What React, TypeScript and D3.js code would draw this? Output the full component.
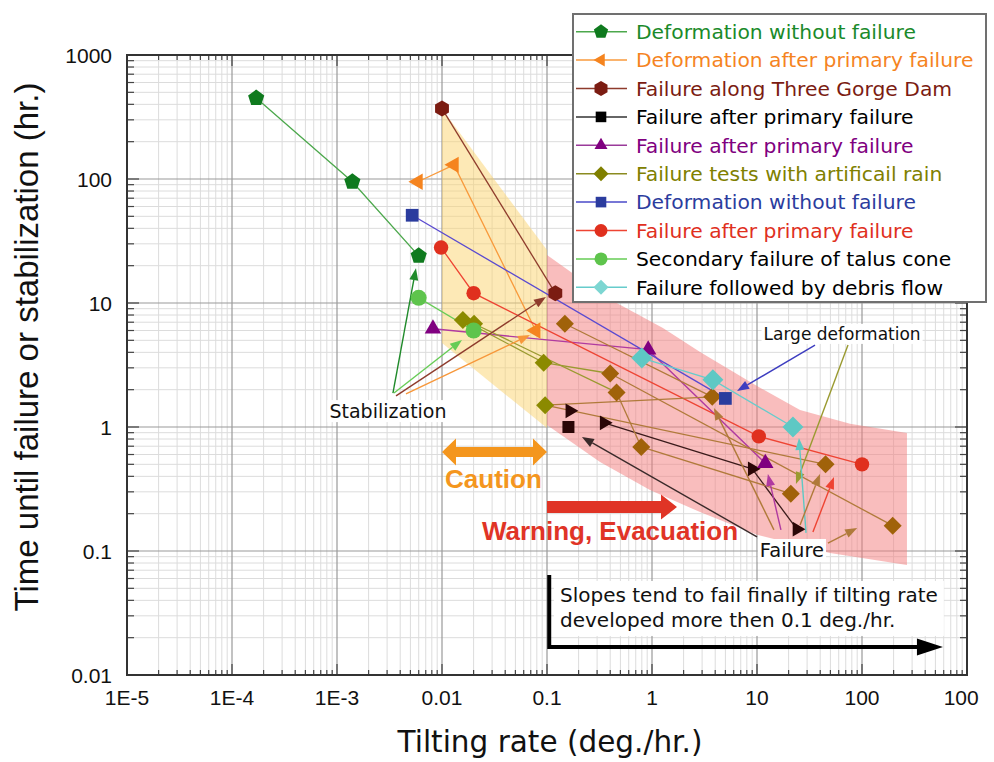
import React, { useRef, useEffect } from "react";
import * as d3 from "d3";

// axis ticks
const xTickValues = [1e-5, 1e-4, 1e-3, 0.01, 0.1, 1, 10, 100, 1000];
const xTickLabels = ["1E-5", "1E-4", "1E-3", "0.01", "0.1", "1", "10", "100", "1000"];
const yTickValues = [0.01, 0.1, 1, 10, 100, 1000];
const yTickLabels = ["0.01", "0.1", "1", "10", "100", "1000"];

// series values: [tilting rate (deg./hr.), time (hr.)]
const deformationNoFailureGreen = [[1.7e-4, 450], [1.4e-3, 95], [6.0e-3, 24]];
const deformationAfterPrimary = [[0.0059, 95], [0.013, 130], [0.078, 6.0]];
const threeGorgeDam = [[0.01, 370], [0.12, 12]];
const failureAfterPrimarySquare = [[0.16, 1.0]];
const failureAfterPrimaryTri = [[0.165, 1.35], [0.35, 1.08], [9.0, 0.46], [24, 0.15]];
const failureAfterPrimaryTriLinks = [[1, 2], [2, 3]];
const failureAfterPrimaryPurple = [[0.0082, 6.2], [0.92, 4.2], [12, 0.51]];
const rainTestsOlive = [[0.0158, 7.3], [0.0202, 6.8], [0.093, 3.3], [0.096, 1.5]];
const rainTestsBrown = [[0.148, 6.8], [0.4, 2.7], [0.46, 1.9], [0.79, 0.69], [3.75, 1.75], [45, 0.5], [21, 0.29], [196, 0.16]];
const rainTestLinks = [[0, 2], [1, 6], [2, 5], [3, 8], [3, 9], [4, 8], [5, 11], [6, 7], [7, 10]];
const deformationNoFailureBlue = [[0.0052, 51], [5.0, 1.7]];
const failureAfterPrimaryRed = [[0.0098, 28], [0.02, 12], [10.4, 0.84], [100, 0.5]];
const talusCone = [[0.006, 11], [0.02, 6.0]];
const debrisFlow = [[0.8, 3.6], [3.8, 2.4], [22, 1.0]];

// shaded zones (data units)
const cautionZone = [[0.01, 367], [0.1, 26.7], [0.1, 0.98], [0.01, 4.75]];
const warningZone = [
  [0.1, 24.4], [0.373, 11.0], [1.27, 6.28], [2.87, 4.03], [10, 2.14], [25.7, 1.37], [76.9, 1.06], [268, 0.895],
  [268, 0.0771], [49.5, 0.0964], [10, 0.135], [2.87, 0.206], [0.957, 0.31], [0.32, 0.522], [0.1, 1.04],
];

// annotations: [fromX, fromY, toX, toY]
const stabilizationAt = [0.00306, 1.18];
const stabilizationArrows = [[0.00341, 1.88, 0.00565, 19.1], [0.00349, 1.88, 0.0155, 5.04], [0.00365, 1.78, 0.0977, 11.2], [0.00454, 1.85, 0.0689, 5.52]];
const stabilizationColors = ["#1f8a2a", "#66cc55", "#8e3b2c", "#f7973a"];
const largeDefAt = [64.6, 5.04];
const largeDefArrows = [[35.7, 4.58, 6.46, 1.95], [73.6, 4.58, 23.5, 0.347]];
const largeDefColors = ["#3d3dc0", "#9a9a30"];
const failureAt = [21.5, 0.0895];
const failureArrows = [
  [10, 0.13, 0.215, 0.83], [14.5, 0.148, 3.89, 1.42], [16.9, 0.148, 12.7, 0.418], [29.3, 0.14, 25.1, 0.815],
  [25.7, 0.162, 39.8, 0.418], [34.1, 0.142, 54.1, 0.395], [47.4, 0.116, 90, 0.153],
];
const failureColors = ["#3a2a2a", "#b07a3a", "#b03aa0", "#5ec8c4", "#b07a3a", "#ee4433", "#b07a3a"];
const cautionSpan = [0.01, 0.1, 0.628];
const cautionAt = [0.0309, 0.322];
const warningSpan = [0.1, 1.73, 0.226];
const warningAt = [0.398, 0.123];
const noteCorner = [0.105, 0.064, 0.0168, 590];
const noteLines = ["Slopes tend to fail finally if tilting rate", "developed more then 0.1 deg./hr."];
const noteAt = [0.133, 0.0388, 0.0244];

const legendItems = [
  { name: "Deformation without failure", shape: "pentagon", fill: "#0f7a1e", line: "#4ca84c", text: "#1a8a2a" },
  { name: "Deformation after primary failure", shape: "triLeft", fill: "#f5841f", line: "#f89a3c", text: "#f5841f" },
  { name: "Failure along Three Gorge Dam", shape: "hexagon", fill: "#7b1c12", line: "#8e3b2c", text: "#7b1c12" },
  { name: "Failure after primary failure", shape: "square", fill: "#000000", line: "#333333", text: "#000000" },
  { name: "Failure after primary failure", shape: "triUp", fill: "#800080", line: "#9a3a9a", text: "#800080" },
  { name: "Failure tests with artificail rain", shape: "diamond", fill: "#808000", line: "#8b8b20", text: "#808000" },
  { name: "Deformation without failure", shape: "square", fill: "#2b3c9e", line: "#4a4ac8", text: "#2b3c9e" },
  { name: "Failure after primary failure", shape: "circle", fill: "#e0301e", line: "#ee4433", text: "#e0301e" },
  { name: "Secondary failure of talus cone", shape: "circle", fill: "#5ec44c", line: "#66cc55", text: "#000000" },
  { name: "Failure followed by debris flow", shape: "diamond", fill: "#7dd6d2", line: "#66cccc", text: "#000000" },
];

const poly = (n, r, rot) => {
  const pts = d3.range(n).map((k) => {
    const a = (rot * Math.PI) / 180 + (2 * Math.PI * k) / n;
    return [r * Math.sin(a), -r * Math.cos(a)];
  });
  return "M" + pts.map((p) => p.join(",")).join("L") + "Z";
};

const shapePath = (shape, r) => {
  if (shape === "pentagon") return poly(5, r, 0);
  if (shape === "hexagon") return poly(6, r, 0);
  if (shape === "triUp") return poly(3, r, 0);
  if (shape === "triLeft") return poly(3, r, -90);
  if (shape === "triRight") return poly(3, r, 90);
  if (shape === "square") return poly(4, r, 45);
  if (shape === "diamond") return poly(4, r, 0);
  return `M${-r},0A${r},${r} 0 1,0 ${r},0A${r},${r} 0 1,0 ${-r},0Z`;
};

const App = () => {
  const svgRef = useRef(null);

  useEffect(() => {
    const width = 994;
    const height = 762;
    const svg = d3.select(svgRef.current).attr("width", width).attr("height", height);

    const x = d3.scaleLog().domain([1e-5, 1000]).range([127, 967]);
    const y = d3.scaleLog().domain([0.01, 1000]).range([675, 55]);
    const isMajor = (v) => Math.abs(Math.log10(v) - Math.round(Math.log10(v))) < 1e-6;

    svg.append("rect").attr("width", width).attr("height", height).attr("fill", "#fff");

    // grid
    const grid = svg.append("g");
    const xt = x.ticks();
    const yt = y.ticks();
    grid.selectAll(".gx").data(xt.filter((v) => !isMajor(v))).enter().append("line")
      .attr("x1", (d) => x(d)).attr("x2", (d) => x(d)).attr("y1", 55).attr("y2", 675)
      .attr("stroke", "#dcdcdc").attr("stroke-width", 1);
    grid.selectAll(".gy").data(yt.filter((v) => !isMajor(v))).enter().append("line")
      .attr("y1", (d) => y(d)).attr("y2", (d) => y(d)).attr("x1", 127).attr("x2", 967)
      .attr("stroke", "#dcdcdc").attr("stroke-width", 1);
    grid.selectAll(".gX").data(xTickValues).enter().append("line")
      .attr("x1", (d) => x(d)).attr("x2", (d) => x(d)).attr("y1", 55).attr("y2", 675)
      .attr("stroke", "#999").attr("stroke-width", 1.2);
    grid.selectAll(".gY").data(yTickValues).enter().append("line")
      .attr("y1", (d) => y(d)).attr("y2", (d) => y(d)).attr("x1", 127).attr("x2", 967)
      .attr("stroke", "#999").attr("stroke-width", 1.2);

    // zones
    const zone = d3.line().x((d) => x(d[0])).y((d) => y(d[1])).curve(d3.curveLinearClosed);
    svg.append("path").attr("d", zone(cautionZone)).attr("fill", "#fcd46e").attr("opacity", 0.5);
    svg.append("path").attr("d", zone(warningZone)).attr("fill", "#f47c7c").attr("opacity", 0.5);

    const lineGen = d3.line().x((d) => x(d[0])).y((d) => y(d[1]));
    const lines = svg.append("g").attr("fill", "none").attr("stroke-width", 1.3);
    const polylines = [
      [deformationNoFailureGreen, legendItems[0].line],
      [deformationAfterPrimary, legendItems[1].line],
      [threeGorgeDam, legendItems[2].line],
      [failureAfterPrimaryPurple, "#b03aa0"],
      [deformationNoFailureBlue, "#5a4ad0"],
      [failureAfterPrimaryRed, legendItems[7].line],
      [talusCone, legendItems[8].line],
      [debrisFlow, legendItems[9].line],
    ];
    polylines.forEach(([data, color]) => lines.append("path").attr("d", lineGen(data)).attr("stroke", color));
    failureAfterPrimaryTriLinks.forEach(([a, b]) =>
      lines.append("path").attr("d", lineGen([failureAfterPrimaryTri[a], failureAfterPrimaryTri[b]])).attr("stroke", "#3a1a1a"));
    const rainAll = rainTestsOlive.concat(rainTestsBrown);
    rainTestLinks.forEach(([a, b]) =>
      lines.append("path").attr("d", lineGen([rainAll[a], rainAll[b]]))
        .attr("stroke", a < 3 ? "#9a9a30" : "#b07a3a"));

    // annotation arrows
    const arrow = (g, d, color) => {
      const x1 = x(d[0]), y1 = y(d[1]), x2 = x(d[2]), y2 = y(d[3]);
      const len = Math.hypot(x2 - x1, y2 - y1);
      const ux = (x2 - x1) / len, uy = (y2 - y1) / len;
      const bx = x2 - ux * 12, by = y2 - uy * 12;
      g.append("line").attr("x1", x1).attr("y1", y1).attr("x2", bx).attr("y2", by)
        .attr("stroke", color).attr("stroke-width", 1.4);
      g.append("path")
        .attr("d", `M${x2},${y2}L${bx - uy * 4.5},${by + ux * 4.5}L${bx + uy * 4.5},${by - ux * 4.5}Z`)
        .attr("fill", color);
    };
    const ann = svg.append("g");
    stabilizationArrows.forEach((d, i) => arrow(ann, d, stabilizationColors[i]));
    largeDefArrows.forEach((d, i) => arrow(ann, d, largeDefColors[i]));
    failureArrows.forEach((d, i) => arrow(ann, d, failureColors[i]));

    // markers
    const marks = svg.append("g");
    const drawMarks = (data, shape, r, fill) =>
      marks.selectAll(null).data(data).enter().append("path")
        .attr("d", shapePath(shape, r))
        .attr("transform", (d) => `translate(${x(d[0])},${y(d[1])})`)
        .attr("fill", fill);
    drawMarks(deformationNoFailureGreen, "pentagon", 8.5, legendItems[0].fill);
    drawMarks(deformationAfterPrimary, "triLeft", 9.5, legendItems[1].fill);
    drawMarks(threeGorgeDam, "hexagon", 8, legendItems[2].fill);
    drawMarks(rainTestsOlive, "diamond", 9, "#8b8a00");
    drawMarks(rainTestsBrown, "diamond", 9, "#a0620a");
    drawMarks(failureAfterPrimarySquare, "square", 8.5, "#2a0606");
    drawMarks(failureAfterPrimaryTri, "triRight", 8.5, "#2a0606");
    drawMarks(failureAfterPrimaryPurple, "triUp", 9.5, legendItems[4].fill);
    drawMarks(deformationNoFailureBlue, "square", 9, legendItems[6].fill);
    drawMarks(failureAfterPrimaryRed, "circle", 7.2, legendItems[7].fill);
    drawMarks(talusCone, "circle", 8, legendItems[8].fill);
    drawMarks(debrisFlow, "diamond", 10.5, "#5ec8c4");

    // labels with white boxes
    const boxedLabel = (at, text, size, color, anchor = "middle") => {
      const g = svg.append("g");
      const t = g.append("text").attr("x", x(at[0])).attr("y", y(at[1]))
        .attr("text-anchor", anchor).attr("font-family", "DejaVu Sans")
        .attr("font-size", size).attr("fill", color).text(text);
      const bb = t.node().getBBox();
      g.insert("rect", "text").attr("x", bb.x - 2).attr("y", bb.y).attr("width", bb.width + 4)
        .attr("height", bb.height).attr("fill", "#fff");
    };
    boxedLabel(stabilizationAt, "Stabilization", 19, "#111");
    boxedLabel(largeDefAt, "Large deformation", 17, "#111");
    boxedLabel(failureAt, "Failure", 19.5, "#111");

    // caution / warning arrows
    const cx1 = x(cautionSpan[0]), cx2 = x(cautionSpan[1]), cy = y(cautionSpan[2]);
    svg.append("path")
      .attr("d", `M${cx1},${cy}L${cx1 + 14},${cy - 13.5}V${cy - 5}H${cx2 - 14}V${cy - 13.5}L${cx2},${cy}L${cx2 - 14},${cy + 13.5}V${cy + 5}H${cx1 + 14}V${cy + 13.5}Z`)
      .attr("fill", "#f4961e");
    svg.append("text").attr("x", x(cautionAt[0])).attr("y", y(cautionAt[1])).attr("text-anchor", "middle")
      .attr("font-family", "Liberation Sans").attr("font-weight", "bold").attr("font-size", 26)
      .attr("fill", "#f4961e").text("Caution");
    const wx1 = x(warningSpan[0]), wx2 = x(warningSpan[1]), wy = y(warningSpan[2]);
    svg.append("path")
      .attr("d", `M${wx1},${wy - 6}H${wx2 - 16}V${wy - 12.5}L${wx2},${wy}L${wx2 - 16},${wy + 12.5}V${wy + 6}H${wx1}Z`)
      .attr("fill", "#e03426");
    svg.append("text").attr("x", x(warningAt[0])).attr("y", y(warningAt[1])).attr("text-anchor", "middle")
      .attr("font-family", "Liberation Sans").attr("font-weight", "bold").attr("font-size", 26)
      .attr("fill", "#e03426").text("Warning, Evacuation");

    // note box with L-arrow
    const note = svg.append("g");
    const nt = note.append("text").attr("font-family", "DejaVu Sans").attr("font-size", 20).attr("fill", "#111");
    noteLines.forEach((s, i) =>
      nt.append("tspan").attr("x", x(noteAt[0])).attr("y", y(noteAt[1 + i])).text(s));
    const nbb = nt.node().getBBox();
    note.insert("rect", "text").attr("x", nbb.x - 6).attr("y", nbb.y - 2).attr("width", nbb.width + 12)
      .attr("height", nbb.height + 6).attr("fill", "#fff");
    const lx = x(noteCorner[0]), ly1 = y(noteCorner[1]), ly2 = y(noteCorner[2]), lx2 = x(noteCorner[3]);
    note.append("path").attr("d", `M${lx},${ly1}V${ly2}H${lx2 - 24}`).attr("fill", "none")
      .attr("stroke", "#000").attr("stroke-width", 4);
    note.append("path").attr("d", `M${lx2},${ly2}L${lx2 - 26},${ly2 - 8.5}L${lx2 - 26},${ly2 + 8.5}Z`).attr("fill", "#000");

    // frame and ticks
    const axes = svg.append("g").attr("stroke", "#444").attr("stroke-width", 1.2);
    xt.forEach((v) => {
      const L = isMajor(v) ? 11 : 5;
      axes.append("line").attr("x1", x(v)).attr("x2", x(v)).attr("y1", 675).attr("y2", 675 - L);
      axes.append("line").attr("x1", x(v)).attr("x2", x(v)).attr("y1", 55).attr("y2", 55 + L);
    });
    yt.forEach((v) => {
      const L = isMajor(v) ? 12 : 7;
      axes.append("line").attr("y1", y(v)).attr("y2", y(v)).attr("x1", 127).attr("x2", 127 + L);
      axes.append("line").attr("y1", y(v)).attr("y2", y(v)).attr("x1", 967).attr("x2", 967 - L);
    });
    svg.append("rect").attr("x", 127).attr("y", 55).attr("width", 840).attr("height", 620)
      .attr("fill", "none").attr("stroke", "#333").attr("stroke-width", 2);

    // tick labels (the last one is cut by the picture's edge)
    svg.append("clipPath").attr("id", "labelClip").append("rect").attr("x", 0).attr("y", 0).attr("width", 979).attr("height", height);
    svg.append("g").attr("clip-path", "url(#labelClip)").selectAll("text").data(xTickValues).enter().append("text")
      .attr("x", (d) => x(d)).attr("y", 705).attr("text-anchor", "middle")
      .attr("font-family", "Liberation Sans").attr("font-size", 21).attr("fill", "#111")
      .text((d, i) => xTickLabels[i]);
    svg.append("g").selectAll("text").data(yTickValues).enter().append("text")
      .attr("x", 112).attr("y", (d) => y(d) + 7.5).attr("text-anchor", "end")
      .attr("font-family", "Liberation Sans").attr("font-size", 21).attr("fill", "#111")
      .text((d, i) => yTickLabels[i]);

    // axis titles
    svg.append("text").attr("x", 550).attr("y", 752).attr("text-anchor", "middle")
      .attr("font-family", "DejaVu Sans").attr("font-size", 29.5).attr("fill", "#111")
      .text("Tilting rate (deg./hr.)");
    svg.append("text").attr("transform", "translate(38,347) rotate(-90)").attr("text-anchor", "middle")
      .attr("font-family", "Liberation Sans").attr("font-size", 33).attr("fill", "#111")
      .text("Time until failure or stabilization (hr.)");

    // legend
    const lg = svg.append("g");
    lg.append("rect").attr("x", 573).attr("y", 14).attr("width", 413).attr("height", 288)
      .attr("fill", "#fff").attr("stroke", "#707070").attr("stroke-width", 2);
    legendItems.forEach((it, i) => {
      const cyL = 31.7 + i * 28.4;
      lg.append("line").attr("x1", 576).attr("x2", 627).attr("y1", cyL).attr("y2", cyL)
        .attr("stroke", it.line).attr("stroke-width", 1.5);
      lg.append("path").attr("d", shapePath(it.shape, it.shape === "circle" ? 6.5 : 7.5))
        .attr("transform", `translate(601,${cyL})`).attr("fill", it.fill);
      lg.append("text").attr("x", 636).attr("y", cyL + 7.3).attr("font-family", "DejaVu Sans")
        .attr("font-size", 20.3).attr("fill", it.text).text(it.name);
    });

    return () => {
      svg.selectAll("*").remove();
    };
  }, []);

  return <svg ref={svgRef} style={{ position: "absolute", left: 0, top: 0, display: "block" }} />;
};

export default App;
